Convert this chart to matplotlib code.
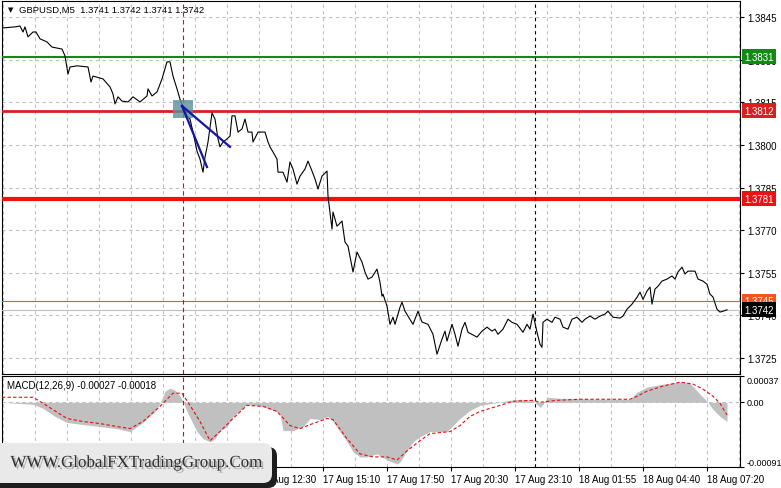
import numpy as np
import matplotlib.pyplot as plt
from matplotlib import transforms
from matplotlib.patches import FancyBboxPatch, Rectangle
import matplotlib.patheffects as pe

plt.rcParams['font.family'] = ['Liberation Sans', 'DejaVu Sans']

# (bar, price)
price_path = [
    (0, 1.38411), (6.5, 1.38415), (9, 1.38418), (10.5, 1.38397), (11.5, 1.38415),
    (13, 1.38380), (15.5, 1.38397), (17, 1.38397), (19, 1.38373), (22.5, 1.38362),
    (25, 1.38344), (30, 1.38337), (31.5, 1.38313), (33, 1.38249), (34, 1.38274),
    (37.5, 1.38278), (43, 1.38274), (44.5, 1.38221), (45.5, 1.38242), (50.5, 1.38232),
    (54, 1.38204), (55.5, 1.38179), (56.5, 1.38144), (58, 1.38169), (60, 1.38154),
    (63, 1.38151), (65.5, 1.38169), (69, 1.38151), (72.5, 1.38172), (73, 1.38197),
    (75, 1.38172), (77.5, 1.38186), (80, 1.38232), (82.5, 1.38292), (84, 1.38292),
    (85.5, 1.38242), (87.5, 1.38197), (89, 1.38161), (90.5, 1.38133), (92.5, 1.38102),
    (94, 1.38091), (95.5, 1.38045), (97.5, 1.37978), (99, 1.37950), (100.5, 1.37904),
    (101.5, 1.37957), (103, 1.38010), (105, 1.38112), (106.5, 1.38091), (108, 1.38021),
    (109, 1.37993), (110.5, 1.38010), (112.5, 1.38021), (114, 1.38031), (115, 1.38102),
    (116.5, 1.38102), (118, 1.38045), (120, 1.38056), (121.5, 1.38091), (123, 1.38045),
    (125, 1.38045), (125.5, 1.38010), (128, 1.38045), (131.5, 1.38045), (133, 1.38010),
    (134, 1.37993), (135.5, 1.37975), (137.5, 1.37950), (138, 1.37904), (140.5, 1.37904),
    (142.5, 1.37869), (144, 1.37940), (145.5, 1.37915), (147.5, 1.37862), (149, 1.37890),
    (151.5, 1.37915), (153, 1.37943), (155, 1.37908), (156.5, 1.37880), (158, 1.37845),
    (160, 1.37890), (162.5, 1.37908), (163, 1.37820), (165, 1.37704), (165.5, 1.37764),
    (167.5, 1.37714), (170, 1.37732), (171.5, 1.37658), (173, 1.37644), (175.5, 1.37553),
    (177.5, 1.37623), (180, 1.37588), (181.5, 1.37553), (183, 1.37528), (185, 1.37535),
    (187.5, 1.37563), (189, 1.37517), (190, 1.37468), (190.5, 1.37475), (192.5, 1.37433),
    (194, 1.37369), (195.5, 1.37394), (196.5, 1.37369), (199, 1.37429), (200, 1.37447),
    (201.5, 1.37415), (203, 1.37398), (205.5, 1.37369), (208, 1.37415), (210, 1.37377),
    (213, 1.37369), (215.5, 1.37334), (217.5, 1.37264), (220, 1.37317), (221.5, 1.37345),
    (222.5, 1.37310), (225, 1.37369), (226.5, 1.37334), (228, 1.37292), (230, 1.37352),
    (231.5, 1.37376), (233, 1.37341), (237.5, 1.37324), (240, 1.37345), (242.5, 1.37359),
    (245, 1.37345), (246.5, 1.37352), (248, 1.37334), (250.5, 1.37352), (253, 1.37387),
    (255, 1.37376), (257.5, 1.37369), (260.5, 1.37341), (262.5, 1.37369), (264, 1.37352),
    (265.5, 1.37405), (267.5, 1.37341), (269, 1.37299), (270, 1.37288), (270.5, 1.37376),
    (272.5, 1.37387), (275, 1.37376), (276.5, 1.37394), (279, 1.37387), (280.5, 1.37359),
    (283, 1.37352), (285, 1.37387), (287.5, 1.37394), (290, 1.37376), (291.5, 1.37387),
    (294, 1.37398), (296.5, 1.37387), (299, 1.37398), (301.5, 1.37405), (303, 1.37415),
    (305.5, 1.37394), (309, 1.37391), (310.5, 1.37398), (312.5, 1.37422), (315, 1.37440),
    (317.5, 1.37464), (319, 1.37482), (320.5, 1.37457), (322.5, 1.37486), (324, 1.37500),
    (325, 1.37440), (326.5, 1.37493), (328, 1.37503), (330, 1.37521), (332.5, 1.37528),
    (335, 1.37539), (336.5, 1.37528), (338, 1.37553), (340, 1.37570), (341.5, 1.37546),
    (343, 1.37556), (346.5, 1.37556), (348, 1.37528), (350.5, 1.37521), (352.5, 1.37510),
    (354, 1.37475), (355.5, 1.37465), (357.5, 1.37422), (359, 1.37412), (360.5, 1.37415),
    (362.5, 1.37420),
]

# MACD histogram (bar, value)
hist_path = [
    (0, 0.0), (15.5, -0.000028), (20.5, -0.000085), (26.5, -0.000199), (32.5, -0.000284),
    (40.5, -0.000313), (49, -0.000341), (57.5, -0.000370), (64, -0.000412), (70.5, -0.000284),
    (76.5, -0.000128), (79, -0.000014), (81.5, 0.000156), (84, 0.000199), (86.5, 0.000171),
    (89, 0.000085), (90.5, 0.000014), (92.5, -0.000128), (95.5, -0.000299), (97.5, -0.000412),
    (100.5, -0.000512), (104, -0.000555), (106.5, -0.000512), (109, -0.000398), (112.5, -0.000341),
    (115.5, -0.000199), (119, -0.000114), (122.5, -0.000028), (125.5, -0.000043), (130.5, -0.000057),
    (135.5, -0.000114), (139, -0.000156), (140.5, -0.000398), (145.5, -0.000398), (150.5, -0.000341),
    (154, -0.000228), (159, -0.000242), (163, -0.000199), (165.5, -0.000270), (169, -0.000412),
    (172.5, -0.000555), (175.5, -0.000697), (179, -0.000768), (182.5, -0.000768), (187.5, -0.000725),
    (192.5, -0.000811), (197.5, -0.000868), (199, -0.000839), (201.5, -0.000725), (205.5, -0.000555),
    (209, -0.000484), (214, -0.000412), (222.5, -0.000412), (225, -0.000341), (229, -0.000228),
    (234, -0.000114), (239, -0.000043), (245.5, -0.000014), (254, 0.000028), (259, 0.000043),
    (265.5, 0.000028), (267.5, -0.000028), (269, -0.000071), (270.5, -0.000028), (272.5, 0.000071),
    (279, 0.000057), (299, 0.000043), (314, 0.000043), (317.5, 0.000142), (322.5, 0.000213),
    (330.5, 0.000256), (339, 0.000284), (344, 0.000270), (349, 0.000114), (353, 0.0),
    (355.5, -0.000100), (359, -0.000199), (362.5, -0.000270),
]

# MACD signal line (bar, value)
signal_path = [
    (0, 0.000071), (15.5, 0.000071), (20.5, -0.000014), (32.5, -0.000228), (40.5, -0.000270),
    (49, -0.000299), (57.5, -0.000341), (64, -0.000370), (70.5, -0.000270), (79, -0.000057),
    (85.5, 0.000128), (90, 0.000128), (94, -0.000043), (99, -0.000270), (104, -0.000540),
    (109, -0.000412), (115.5, -0.000228), (122.5, -0.000043), (130.5, -0.000057), (137.5, -0.000128),
    (144, -0.000327), (149, -0.000370), (155.5, -0.000299), (162.5, -0.000228), (165.5, -0.000242),
    (172.5, -0.000512), (179, -0.000725), (185.5, -0.000768), (192.5, -0.000768), (197.5, -0.000811),
    (202.5, -0.000683), (209, -0.000540), (214, -0.000441), (224, -0.000412), (229, -0.000327),
    (234, -0.000199), (239, -0.000128), (247.5, -0.000057), (255.5, 0.000014), (265.5, 0.000028),
    (269, 0.0), (277.5, 0.000028), (289, 0.000043), (314, 0.000043), (317.5, 0.000085),
    (322.5, 0.000156), (330.5, 0.000228), (339, 0.000284), (345.5, 0.000256), (350.5, 0.000185),
    (355.5, 0.000085), (359, -0.000014), (362.5, -0.000180),
]

levels = [1.3831, 1.3812, 1.3781, 1.3745]
level_colors = ['#138a13', '#d82020', '#ee1111', '#f0561e']
level_widths = [1.5, 2.0, 3.0, 0.8]
bid = 1.3742

price_ticks = [1.3725, 1.3740, 1.3755, 1.3770, 1.3785, 1.3800, 1.3815, 1.3830, 1.3845]
time_labels = ['17 Aug 01:50', '17 Aug 04:30', '17 Aug 07:10', '17 Aug 09:50',
               '17 Aug 12:30', '17 Aug 15:10', '17 Aug 17:50', '17 Aug 20:30',
               '17 Aug 23:10', '18 Aug 01:55', '18 Aug 04:40', '18 Aug 07:20']
macd_ticks = [-0.00091, 0.0, 0.00037]

# drawn annotations: entry box and two trend lines
entry_box = (85.5, 95.5, 1.38094, 1.38158)
trend_lines = [((90, 1.38137), (102.5, 1.37922)), ((90, 1.38137), (114, 1.37993))]
red_marker = 90.5
black_marker = 266.5

W, H = 781, 489
fig = plt.figure(figsize=(W / 100, H / 100), dpi=100)
ax = fig.add_axes([2 / W, 1 - 374.5 / H, 738 / W, 372.5 / H])
ax2 = fig.add_axes([2 / W, 1 - 468 / H, 738 / W, 91 / H])

grid_kw = dict(color='#c0c0c0', linestyle=(0, (3, 3)), linewidth=0.8)
grid_bars = np.arange(0.5, 369, 16)
label_bars = grid_bars[::2]

# ---- price panel
bars, close = zip(*price_path)
ax.plot(bars, close, color='black', lw=0.8, zorder=5)
ax.set_xlim(0, 369)
ax.set_ylim(1.37196, 1.38506)
ax.set_xticks(grid_bars)
ax.tick_params(axis='x', length=0, labelbottom=False)
ax.yaxis.tick_right()
ax.set_yticks(price_ticks)
ax.set_yticklabels(['%.4f' % v for v in price_ticks])
ax.tick_params(axis='y', direction='out', length=3, width=0.8, labelsize=7, pad=2)
ax.grid(True, **grid_kw)
ax.set_axisbelow(True)

for lv, c, w in zip(levels, level_colors, level_widths):
    ax.axhline(lv, color=c, lw=w, zorder=3)
ax.axhline(bid, color='#c0c0c0', lw=0.8, zorder=3)

lab_tr = transforms.blended_transform_factory(ax.transAxes, ax.transData)
for lv, c in zip(levels + [bid], level_colors + ['black']):
    ax.text(1 + 4 / 738, lv, '%.4f' % lv, transform=lab_tr, ha='left', va='center',
            fontsize=7, color='white', clip_on=False, zorder=10,
            bbox=dict(boxstyle='square,pad=0.25', fc=c, ec='none'))

x0, x1, y0, y1 = entry_box
ax.add_patch(Rectangle((x0, y0), x1 - x0, y1 - y0, fc='#5b8f9a', ec='none',
                       alpha=0.8, zorder=6))
for (xa, ya), (xb, yb) in trend_lines:
    ax.plot([xa, xb], [ya, yb], color='#1414a8', lw=1.6, zorder=7)

for a in (ax, ax2):
    a.axvline(red_marker, color='#d01010', ls=(0, (4, 3)), lw=0.8, zorder=4)
    a.axvline(black_marker, color='black', ls=(0, (3, 3)), lw=0.8, zorder=4)
    for s in a.spines.values():
        s.set_color('black')
        s.set_linewidth(0.8)

ax.text(6 / 738, 1 - 8 / 372.5, '\u25bc', transform=ax.transAxes, fontsize=5,
        family='DejaVu Sans', va='center', ha='left')
ax.text(17 / 738, 1 - 8.5 / 372.5, 'GBPUSD,M5  1.3741 1.3742 1.3741 1.3742',
        transform=ax.transAxes, fontsize=6.8, va='center', ha='left')

# ---- MACD panel
hb, hv = zip(*hist_path)
ax2.fill_between(hb, hv, 0, color='#c0c0c0', lw=0, zorder=2)
sb, sv = zip(*signal_path)
ax2.plot(sb, sv, color='#e01010', ls=(0, (3, 2)), lw=0.8, zorder=3)
ax2.axhline(0, zorder=1, **grid_kw)
ax2.set_xlim(0, 369)
ax2.set_ylim(-0.00091, 0.00037)
ax2.yaxis.tick_right()
ax2.set_yticks(macd_ticks)
ax2.set_yticklabels(['-0.00091', '0.00', '0.00037'])
for lbl, va in zip(ax2.get_yticklabels(), ['bottom', 'center', 'top']):
    lbl.set_va(va)
ax2.tick_params(axis='y', direction='out', length=3, width=0.8, labelsize=6.5, pad=2)
ax2.set_xticks(label_bars)
ax2.set_xticklabels(time_labels, ha='left')
ax2.set_xticks(grid_bars[1::2], minor=True)
ax2.tick_params(axis='x', which='major', direction='out', length=3, width=0.8,
                labelsize=7, pad=2)
ax2.tick_params(axis='x', which='minor', length=0)
ax2.grid(True, axis='x', which='both', **grid_kw)
ax2.set_axisbelow(True)
ax2.text(5 / 738, 1 - 4 / 91, 'MACD(12,26,9) -0.00027 -0.00018', transform=ax2.transAxes,
         fontsize=7, va='top', ha='left')

# ---- watermark
pix = transforms.IdentityTransform()
fig.add_artist(FancyBboxPatch((-8, 0), 285, 41, boxstyle='round,pad=0,rounding_size=9',
                              fc='#1e1e1e', ec='none', transform=pix, zorder=20))
fig.add_artist(FancyBboxPatch((-8, 5), 280, 40, boxstyle='round,pad=0,rounding_size=9',
                              fc='#e9e9e9', ec='none', transform=pix, zorder=21))
fig.text(136 / W, (H - 464) / H, 'WWW.GlobalFXTradingGroup.Com', family='Liberation Serif',
         fontsize=12.2, color='#2e2e2e', ha='center', va='center', zorder=22,
         path_effects=[pe.withSimplePatchShadow(offset=(1.5, -1.5), shadow_rgbFace='#888888',
                                                alpha=0.6)])

fig.savefig('out.png', dpi=100, facecolor='white')
